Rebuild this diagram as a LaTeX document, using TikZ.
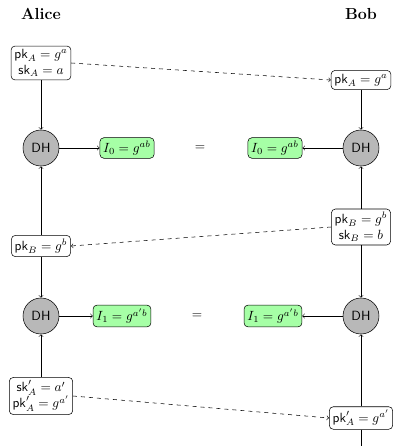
\documentclass[tikz,border=0pt]{standalone}
\usepackage{amsmath}
\begin{document}
\begin{tikzpicture}[x=0.75pt,y=-0.75pt,
  keybox/.style={draw, rounded corners=3pt, fill=white, align=center, inner sep=2.5pt},
  dhnode/.style={draw, circle, fill=black!28, minimum size=27pt, inner sep=0pt, font=\sffamily},
  resbox/.style={draw, rounded corners=3pt, fill=green!35, inner sep=2.5pt},
  title/.style={font=\large\bfseries},
  flow/.style={->},
  msg/.style={->, dashed}]
\useasboundingbox (0,0) rectangle (393,446);
\node[title] (alice) at (41,14) {Alice};
\node[title] (bob) at (361,14) {Bob};
% Alice column
\node[keybox] (a1) at (41,63) {$\mathsf{pk}_A = g^a$\\ $\mathsf{sk}_A = a$};
\node[dhnode] (adh1) at (41,148) {DH};
\node[resbox] (ai0) at (127,148) {$I_0 = g^{ab}$};
\node[keybox] (a2) at (41,246) {$\mathsf{pk}_B = g^b$};
\node[dhnode] (adh2) at (41,316) {DH};
\node[resbox] (ai1) at (122,316) {$I_1 = g^{a'b}$};
\node[keybox] (a3) at (41,396) {$\mathsf{sk}'_A = a'$\\ $\mathsf{pk}'_A = g^{a'}$};
% equals
\node (eq0) at (200,148) {$=$};
\node (eq1) at (197,316) {$=$};
% Bob column
\node[keybox] (b1) at (361,80) {$\mathsf{pk}_A = g^a$};
\node[dhnode] (bdh1) at (361,148) {DH};
\node[resbox] (bi0) at (275,148) {$I_0 = g^{ab}$};
\node[keybox] (b2) at (361,227) {$\mathsf{pk}_B = g^b$\\ $\mathsf{sk}_B = b$};
\node[dhnode] (bdh2) at (361,316) {DH};
\node[resbox] (bi1) at (273,316) {$I_1 = g^{a'b}$};
\node[keybox] (b3) at (361,418) {$\mathsf{pk}'_A = g^{a'}$};
\coordinate (bend) at (361,470);
% Alice connectors
\draw[flow] (a1) -- (adh1);
\draw[flow] (a2) -- (adh1);
\draw[flow] (a2) -- (adh2);
\draw[flow] (a3) -- (adh2);
\draw[flow] (adh1) -- (ai0);
\draw[flow] (adh2) -- (ai1);
% Bob connectors
\draw[flow] (b1) -- (bdh1);
\draw[flow] (b2) -- (bdh1);
\draw[flow] (b2) -- (bdh2);
\draw[flow] (b3) -- (bdh2);
\draw (b3) -- (bend);
\draw[flow] (bdh1) -- (bi0);
\draw[flow] (bdh2) -- (bi1);
% messages
\draw[msg] (a1.east) -- (b1.west);
\draw[msg] (b2.west) -- (a2.east);
\draw[msg] (a3.east) -- (b3.west);
\end{tikzpicture}
\end{document}
